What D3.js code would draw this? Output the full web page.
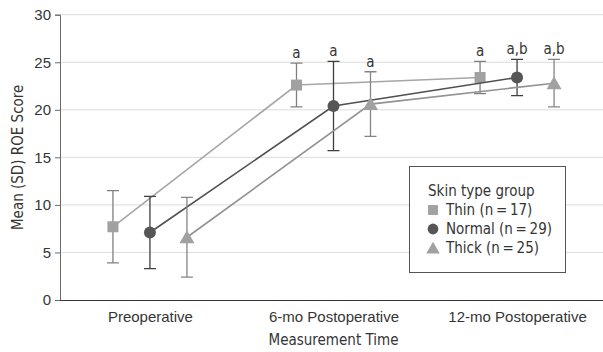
<!DOCTYPE html>
<html>
<head>
<meta charset="utf-8">
<script src="https://cdn.jsdelivr.net/npm/d3@7"></script>
<style>
  body { margin: 0; background: #fff; }
  svg { display: block; font-family: "DejaVu Sans Condensed", "Liberation Sans Narrow", sans-serif; }
</style>
</head>
<body>
<svg id="chart" width="603" height="352"></svg>
<script>
'use strict';

var times = ['Preoperative', '6-mo Postoperative', '12-mo Postoperative'];
var groups = ['Thin (n\u2009=\u200917)', 'Normal (n\u2009=\u200929)', 'Thick (n\u2009=\u200925)'];

var thinMean = [7.7, 22.6, 23.4],
    thinSD = [3.8, 2.3, 1.7],
    thinNote = ['', 'a', 'a'];
var normalMean = [7.1, 20.4, 23.4],
    normalSD = [3.8, 4.7, 1.9],
    normalNote = ['', 'a', 'a,b'];
var thickMean = [6.6, 20.6, 22.8],
    thickSD = [4.2, 3.4, 2.5],
    thickNote = ['', 'a', 'a,b'];

var yTicks = [0, 5, 10, 15, 20, 25, 30];

var series = [
    {name: groups[0], mean: thinMean, sd: thinSD, note: thinNote, shape: 'square',
        fill: '#a1a1a1', line: '#a6a6a6', bar: '#808080'},
    {name: groups[1], mean: normalMean, sd: normalSD, note: normalNote, shape: 'circle',
        fill: '#565656', line: '#505050', bar: '#3f3f3f'},
    {name: groups[2], mean: thickMean, sd: thickSD, note: thickNote, shape: 'triangle',
        fill: '#a1a1a1', line: '#929292', bar: '#858585'}
];

var svg = d3.select('#chart');
var plotLeft = 60, plotTop = 14.7, plotBottom = 300, plotRight = 603;
var textColor = '#353535';

var x = d3.scalePoint().domain(times).range([plotLeft, 607]).padding(0.49);
var dx = d3.scalePoint().domain(groups).range([-37, 37]);
var y = d3.scaleLinear().domain([0, 30]).range([plotBottom, plotTop]);

// grid
svg.append('g').selectAll('line')
    .data(yTicks.slice(1))
    .enter().append('line')
        .attr('x1', plotLeft).attr('x2', plotRight)
        .attr('y1', function(d) { return y(d); })
        .attr('y2', function(d) { return y(d); })
        .attr('stroke', '#dcdcdc').attr('stroke-width', 1);

// axes
var yAxis = svg.append('g')
    .attr('transform', 'translate(' + plotLeft + ',0)')
    .call(d3.axisLeft(y).tickValues(yTicks).tickSize(5).tickPadding(4));
yAxis.select('.domain').attr('stroke', '#6a6a6a');
yAxis.selectAll('.tick line').attr('stroke', '#6a6a6a');
yAxis.selectAll('text').attr('font-size', 15).attr('fill', textColor);

var xAxis = svg.append('g')
    .attr('transform', 'translate(0,' + plotBottom + ')')
    .call(d3.axisBottom(x).tickSize(0).tickPadding(11));
xAxis.select('.domain').attr('d', 'M' + plotLeft + ',0.5H' + plotRight).attr('stroke', textColor);
xAxis.selectAll('text').attr('font-size', 15).attr('fill', textColor);

svg.append('text')
    .attr('x', x(times[1])).attr('y', 345)
    .attr('text-anchor', 'middle').attr('font-size', 15).attr('fill', textColor)
    .text('Measurement Time');

svg.append('text')
    .attr('transform', 'translate(23,' + ((plotTop + plotBottom) / 2) + ') rotate(-90)')
    .attr('text-anchor', 'middle').attr('font-size', 15).attr('fill', textColor)
    .text('Mean (SD) ROE Score');

function px(s, i) { return x(times[i]) + dx(s.name); }

function drawMarker(g, shape, fill) {
    if(shape === 'square') {
        g.append('rect').attr('x', -5.5).attr('y', -5.5).attr('width', 11).attr('height', 11).attr('fill', fill);
    }
    else if(shape === 'circle') {
        g.append('circle').attr('r', 6).attr('fill', fill);
    }
    else {
        g.append('path').attr('d', 'M0,-7L7.5,6L-7.5,6Z').attr('fill', fill);
    }
}

var line = d3.line();

series.forEach(function(s) {
    var g = svg.append('g');
    var pts = s.mean.map(function(m, i) { return [px(s, i), y(m)]; });

    g.append('path')
        .attr('d', line(pts))
        .attr('fill', 'none').attr('stroke', s.line).attr('stroke-width', 1.6);

    s.mean.forEach(function(m, i) {
        var cx = px(s, i), hi = y(m + s.sd[i]), lo = y(m - s.sd[i]);
        g.append('path')
            .attr('d', 'M' + cx + ',' + hi + 'V' + lo +
                'M' + (cx - 6) + ',' + hi + 'H' + (cx + 6) +
                'M' + (cx - 6) + ',' + lo + 'H' + (cx + 6))
            .attr('fill', 'none').attr('stroke', s.bar).attr('stroke-width', 1.3);
        var mk = g.append('g').attr('transform', 'translate(' + cx + ',' + y(m) + ')');
        drawMarker(mk, s.shape, s.fill);
        if(s.note[i]) {
            g.append('text')
                .attr('x', cx).attr('y', hi - 5)
                .attr('text-anchor', 'middle').attr('font-size', 15).attr('fill', textColor)
                .text(s.note[i]);
        }
    });
});

// legend
var lg = svg.append('g').attr('transform', 'translate(409,166)');
lg.append('rect')
    .attr('x', 0.5).attr('y', 0.5).attr('width', 156).attr('height', 106)
    .attr('fill', '#fff').attr('stroke', '#555').attr('stroke-width', 1);
lg.append('text')
    .attr('x', 19).attr('y', 30).attr('font-size', 15).attr('fill', textColor)
    .text('Skin type group');
series.forEach(function(s, i) {
    var row = lg.append('g').attr('transform', 'translate(24,' + (49 + i * 19) + ')');
    var mk = row.append('g').attr('transform', 'translate(0,-5) scale(0.9)');
    drawMarker(mk, s.shape, s.fill);
    row.append('text')
        .attr('x', 13).attr('y', 0).attr('font-size', 15).attr('fill', textColor)
        .text(s.name);
});
</script>
</body>
</html>
